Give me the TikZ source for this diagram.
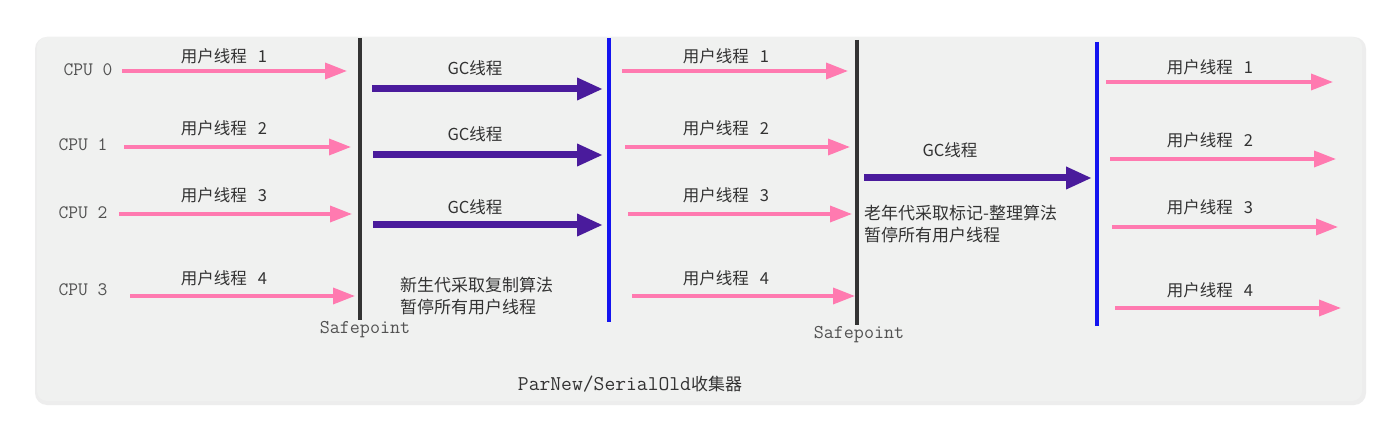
\documentclass[tikz,border=0pt]{standalone}
\usepackage{fontspec}
\newfontfamily\cjk{Noto Sans CJK SC}
\usetikzlibrary{arrows.meta}
\definecolor{cardbg}{HTML}{F0F1F0}
\definecolor{pinkc}{HTML}{FF7AB0}
\definecolor{purpc}{HTML}{4A1B9C}
\definecolor{bluec}{HTML}{1414F0}
\definecolor{txtc}{HTML}{333333}
\newcommand{\thr}[1]{用户线程\hspace{11pt}#1}
\tikzset{
  pinkarrow/.style={draw=pinkc, line width=3.5pt, -{Triangle[length=22pt,width=16pt]}},
  gcarrow/.style={draw=purpc, line width=7pt, -{Triangle[length=26pt,width=21pt]}},
  cpulbl/.style={font=\ttfamily\fontsize{19}{20}\selectfont, text=txtc!85, inner sep=0pt},
  thrlbl/.style={font=\cjk\fontsize{16.5}{18}\selectfont, text=txtc, inner sep=0pt},
  notelbl/.style={font=\cjk\fontsize{17}{22}\selectfont, text=txtc, inner sep=0pt, align=left, anchor=west},
  safelbl/.style={font=\ttfamily\fontsize{19.5}{20}\selectfont, text=txtc!85, inner sep=0pt},
  spline/.style={draw=black!80, line width=3.5pt},
  bluline/.style={draw=bluec, line width=4pt}
}
\begin{document}
\begin{tikzpicture}[x=1pt,y=-1pt]
\useasboundingbox (0,0) rectangle (1398,438);
\fill[white] (0,0) rectangle (1398,438);
\fill[black!7, rounded corners=12pt] (35,37) rectangle (1366,405);
\fill[cardbg, rounded corners=10pt] (37,37) rectangle (1362,401);
% vertical lines
\coordinate (sp1t) at (360,38); \coordinate (sp1b) at (360,320);
\coordinate (bl1t) at (609,38); \coordinate (bl1b) at (609,322);
\coordinate (sp2t) at (857,40); \coordinate (sp2b) at (857,325);
\coordinate (bl2t) at (1097,42); \coordinate (bl2b) at (1097,326);
\draw[spline] (sp1t) -- (sp1b);
\draw[spline] (sp2t) -- (sp2b);
\draw[bluline] (bl1t) -- (bl1b);
\draw[bluline] (bl2t) -- (bl2b);
% CPU labels
\node[cpulbl] (cpu0) at (88,70) {CPU 0};
\node[cpulbl] (cpu1) at (83,145) {CPU 1};
\node[cpulbl] (cpu2) at (83,213) {CPU 2};
\node[cpulbl] (cpu3) at (83,290) {CPU 3};
% block 1 pink arrows
\coordinate (a0s) at (122,71); \coordinate (a0e) at (347,71);
\coordinate (a1s) at (124,147); \coordinate (a1e) at (351,147);
\coordinate (a2s) at (119,214); \coordinate (a2e) at (352,214);
\coordinate (a3s) at (130,296); \coordinate (a3e) at (355,296);
\draw[pinkarrow] (a0s) -- (a0e);
\draw[pinkarrow] (a1s) -- (a1e);
\draw[pinkarrow] (a2s) -- (a2e);
\draw[pinkarrow] (a3s) -- (a3e);
\node[thrlbl] (t01) at (224,56) {\thr{1}};
\node[thrlbl] (t02) at (224,128) {\thr{2}};
\node[thrlbl] (t03) at (224,195) {\thr{3}};
\node[thrlbl] (t04) at (224,278) {\thr{4}};
% GC arrows block 1
\coordinate (g1s) at (372,89); \coordinate (g1e) at (603,89);
\coordinate (g2s) at (373,155); \coordinate (g2e) at (603,155);
\coordinate (g3s) at (373,225); \coordinate (g3e) at (603,225);
\draw[gcarrow] (g1s) -- (g1e);
\draw[gcarrow] (g2s) -- (g2e);
\draw[gcarrow] (g3s) -- (g3e);
\node[thrlbl] (gl1) at (475,68) {GC线程};
\node[thrlbl] (gl2) at (475,134) {GC线程};
\node[thrlbl] (gl3) at (475,207) {GC线程};
\node[notelbl] (n1) at (400,296) {新生代采取复制算法\\暂停所有用户线程};
\node[safelbl] (s1) at (365,330) {Safepoint};
% block 2 pink arrows
\coordinate (b0s) at (622,71); \coordinate (b0e) at (848,71);
\coordinate (b1s) at (625,147); \coordinate (b1e) at (850,147);
\coordinate (b2s) at (628,214); \coordinate (b2e) at (852,214);
\coordinate (b3s) at (632,296); \coordinate (b3e) at (855,296);
\draw[pinkarrow] (b0s) -- (b0e);
\draw[pinkarrow] (b1s) -- (b1e);
\draw[pinkarrow] (b2s) -- (b2e);
\draw[pinkarrow] (b3s) -- (b3e);
\node[thrlbl] (t11) at (726,56) {\thr{1}};
\node[thrlbl] (t12) at (726,128) {\thr{2}};
\node[thrlbl] (t13) at (726,195) {\thr{3}};
\node[thrlbl] (t14) at (726,278) {\thr{4}};
% GC arrow block 2
\coordinate (g4s) at (864,178); \coordinate (g4e) at (1092,178);
\draw[gcarrow] (g4s) -- (g4e);
\node[thrlbl] (gl4) at (950,150) {GC线程};
\node[notelbl] (n2) at (864,224) {老年代采取标记-整理算法\\暂停所有用户线程};
\node[safelbl] (s2) at (859,335) {Safepoint};
% block 3 pink arrows
\coordinate (c0s) at (1106,82); \coordinate (c0e) at (1333,82);
\coordinate (c1s) at (1110,159); \coordinate (c1e) at (1336,159);
\coordinate (c2s) at (1112,227); \coordinate (c2e) at (1338,227);
\coordinate (c3s) at (1115,308); \coordinate (c3e) at (1341,308);
\draw[pinkarrow] (c0s) -- (c0e);
\draw[pinkarrow] (c1s) -- (c1e);
\draw[pinkarrow] (c2s) -- (c2e);
\draw[pinkarrow] (c3s) -- (c3e);
\node[thrlbl] (t21) at (1210,67) {\thr{1}};
\node[thrlbl] (t22) at (1210,140) {\thr{2}};
\node[thrlbl] (t23) at (1210,207) {\thr{3}};
\node[thrlbl] (t24) at (1210,290) {\thr{4}};
% title
\node[inner sep=0pt, text=txtc] (title) at (630,384) {{\ttfamily\fontsize{21}{22}\selectfont ParNew/SerialOld}{\cjk\fontsize{17}{20}\selectfont 收集器}};
\end{tikzpicture}
\end{document}
